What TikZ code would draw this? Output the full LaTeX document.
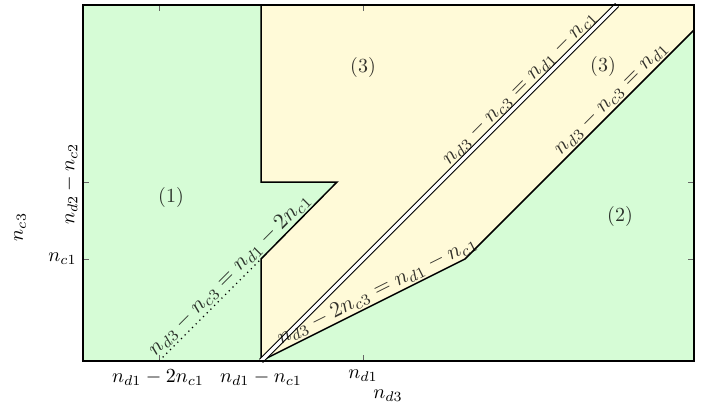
\documentclass[tikz,border=0pt]{standalone}
\usepackage{amsmath}
\usetikzlibrary{calc}
\definecolor{regA}{RGB}{214,252,214}
\definecolor{regB}{RGB}{255,250,216}
\tikzset{
  bnd/.style={draw=black, line width=0.75pt, line join=miter},
  dbl/.style={draw=black, line width=0.6pt, double=white, double distance=1.6pt},
  reglab/.style={text=black, text opacity=0.8, inner sep=1pt},
  linelab/.style={text=black, text opacity=0.8, inner sep=0.8pt, anchor=south, scale=1.1},
  tick/.style={draw=black!60, line width=0.4pt},
}
\begin{document}
\begin{tikzpicture}[x=0.5pt,y=-0.5pt]
\useasboundingbox (0,0) rectangle (715,406);
% frame corners
\coordinate (BL) at (83,361);
\coordinate (TR) at (694,5);
% key points
\coordinate (O) at (261,361);
\coordinate (P1) at (261,259);
\coordinate (P2) at (337,182);
\coordinate (P3) at (261,182);
\coordinate (P4) at (261,5);
\coordinate (Q1) at (465,259);
\coordinate (Q2) at (694,30);
\coordinate (D1) at (617,5);
\coordinate (S) at (159,361);
% fills
\fill[regA] (BL) rectangle (TR);
\fill[regB] (P4) -- (P3) -- (P2) -- (P1) -- (O) -- (Q1) -- (Q2) -- (694,5) -- cycle;
% ticks
\foreach \xx in {159,261,363}{
  \draw[tick] (\xx,361) -- (\xx,355);
  \draw[tick] (\xx,5) -- (\xx,11);
}
\foreach \yy in {182,259}{
  \draw[tick] (83,\yy) -- (89,\yy);
  \draw[tick] (694,\yy) -- (688,\yy);
}
% boundaries
\draw[bnd] (P4) -- (P3) -- (P2) -- (P1) -- (O);
\draw[bnd] (O) -- (Q1) -- (Q2);
\draw[black, line width=0.6pt, dotted] (S) -- (P1);
\draw[dbl] (O) -- (D1);
% frame
\draw[black, line width=0.6pt] (BL) rectangle (TR);
% region labels
\node[reglab] (r1) at (171,197) {(1)};
\node[reglab] (r3a) at (363,68) {(3)};
\node[reglab] (r3b) at (603,67) {(3)};
\node[reglab] (r2) at (620,216) {(2)};
% line labels
\node[linelab, rotate=45] (l1) at ($(S)!0.44!(P2)$) {$n_{d3}-n_{c3}=n_{d1}-2n_{c1}$};
\node[linelab, rotate=45] (l2) at ($(O)!0.747!(D1)$) {$n_{d3}-n_{c3}=n_{d1}-n_{c1}$};
\node[linelab, rotate=45] (l3) at ($(Q1)!0.67!(Q2)$) {$n_{d3}-n_{c3}=n_{d1}$};
\node[linelab, rotate=26.57] (l4) at ($(O)!0.594!(Q1)$) {$n_{d3}-2n_{c3}=n_{d1}-n_{c1}$};
% axis tick labels
\node (x1) at (158,378) {$n_{d1}-2n_{c1}$};
\node (x2) at (261,378) {$n_{d1}-n_{c1}$};
\node (x3) at (363,376) {$n_{d1}$};
\node (xl) at (388,396) {$n_{d3}$};
\node[anchor=east, inner sep=1pt] (y1) at (79,259) {$n_{c1}$};
\node[rotate=90] (y2) at (70,184) {$n_{d2}-n_{c2}$};
\node[rotate=90] (yl) at (20,227) {$n_{c3}$};
\end{tikzpicture}
\end{document}
